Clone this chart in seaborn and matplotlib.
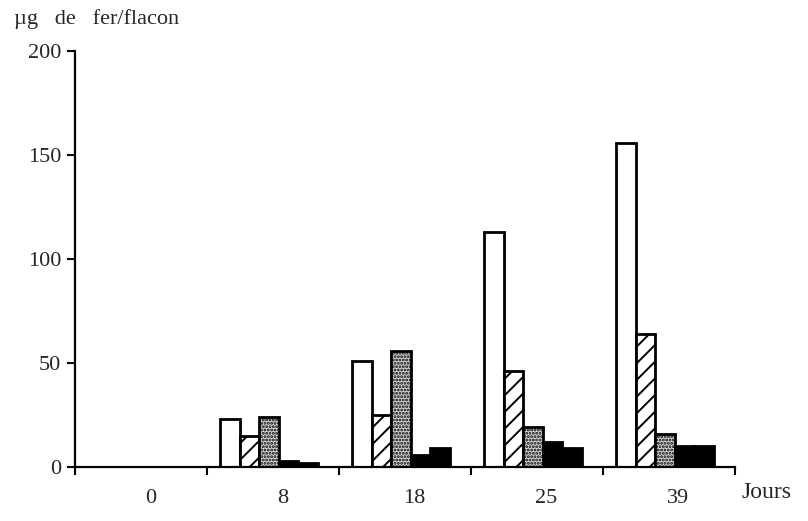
import numpy as np
import pandas as pd
import seaborn as sns
import matplotlib.pyplot as plt

# days (x categories)
jours = ["0", "8", "18", "25", "39"]
series = ["s1", "s2", "s3", "s4", "s5"]

# µg de fer/flacon, one list per series
s1_vals = [0, 23, 51, 113, 156]
s2_vals = [0, 15, 25, 46, 64]
s3_vals = [0, 24, 56, 19, 16]
s4_vals = [0, 3, 6, 12, 10]
s5_vals = [0, 2, 9, 9, 10]

y_ticks = [0, 50, 100, 150, 200]

# build long table for seaborn
rows = []
for name, vals in zip(series, [s1_vals, s2_vals, s3_vals, s4_vals, s5_vals]):
    for j, v in zip(jours, vals):
        rows.append({"jour": j, "serie": name, "val": v})
df = pd.DataFrame(rows)

sns.set_theme(style="ticks")
plt.rcParams['font.family'] = ['Liberation Serif', 'DejaVu Serif']
plt.rcParams['hatch.linewidth'] = 1.4

fig = plt.figure(figsize=(8.08, 5.21), dpi=100)
ax = fig.add_axes([75/808, 54/521, 660/808, 416/521])

sns.barplot(data=df, x="jour", y="val", hue="serie", order=jours,
            hue_order=series, width=0.74, ax=ax, legend=False,
            edgecolor="black", linewidth=2, saturation=1)

# styles per series: fill, hatch
styles = [("white", ""), ("white", "//"), ("#d9d9d9", "....."),
          ("black", ""), ("black", "")]
bars = ax.patches
n = len(jours)
for k, (fc, h) in enumerate(styles):
    for p in bars[k*n:(k+1)*n]:
        p.set_facecolor(fc)
        p.set_hatch(h)
        p.set_edgecolor("black")
        p.set_x(p.get_x() - 0.03)

ax.set_xlim(-0.5, len(jours) - 0.5)
ax.set_ylim(0, 200)
ax.set_yticks(y_ticks)
ax.set_yticklabels([str(t) for t in y_ticks], fontsize=16)

# group boundaries as tick marks, labels at group centres
ax.set_xticks(np.arange(len(jours) + 1) - 0.5)
ax.set_xticklabels([])
ax.set_xticks(np.arange(len(jours)) + 0.07, minor=True)
ax.set_xticklabels(jours, minor=True, fontsize=16)
ax.tick_params(axis="x", which="minor", length=0, pad=16)
ax.tick_params(axis="both", which="major", width=1.5, length=6, color="black")
ax.tick_params(axis="y", pad=4)

for s in ["top", "right"]:
    ax.spines[s].set_visible(False)
for s in ["left", "bottom"]:
    ax.spines[s].set_linewidth(1.6)
    ax.spines[s].set_color("black")

ax.set_xlabel("")
ax.set_ylabel("")
fig.text(14/808, 1 - 19/521, "µg   de   fer/flacon", fontsize=16, va="center")
fig.text(742/808, 1 - 493/521, "Jours", fontsize=17, va="center")

fig.savefig("out.png", dpi=100)
